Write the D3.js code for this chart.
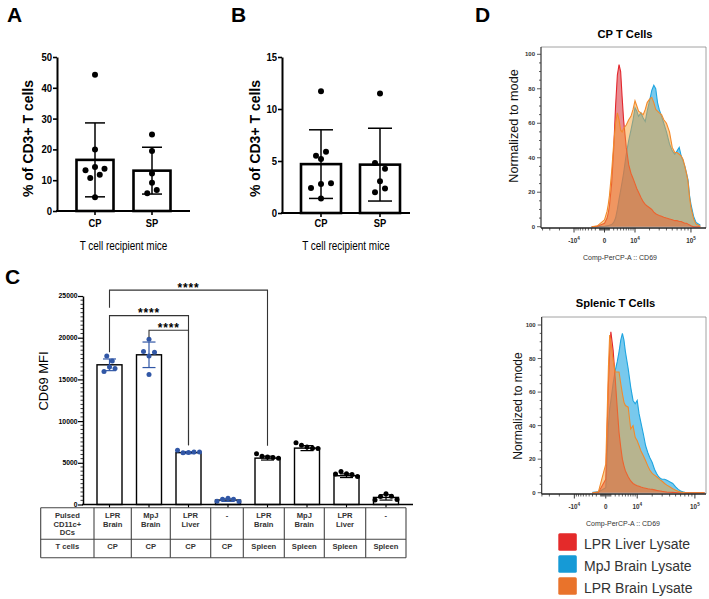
<!DOCTYPE html>
<html>
<head>
<meta charset="utf-8">
<title>CD69 figure</title>
<script src="https://cdn.jsdelivr.net/npm/d3@7"></script>
<style>
  html,body{margin:0;padding:0;background:#fff;}
  svg{display:block;}
</style>
</head>
<body>
<svg id="fig" width="709" height="599" viewBox="0 0 709 599"></svg>
<script>
// ======================= DATA =======================
// Panels A & B
const abGroups = ["CP", "SP"];
const abYTitle = "% of CD3+ T cells";
const abXTitle = "T cell recipient mice";

const aCP = [44.2, 20.0, 14.3, 13.7, 13.2, 10.7, 11.8, 4.5];
const aSP = [24.8, 19.5, 12.2, 9.2, 5.8, 6.8];
const aMeans = [16.6, 13.1];
const aSDs = [12.0, 7.6];
const aTicks = [0, 10, 20, 30, 40, 50];

const bCP = [11.7, 5.5, 5.9, 5.2, 2.8, 2.85, 2.4, 1.4];
const bSP = [11.5, 4.8, 4.25, 3.05, 2.0, 2.35];
const bMeans = [4.7, 4.65];
const bSDs = [3.3, 3.5];
const bTicks = [0, 5, 10, 15];

// Panel C
const cPulsedDCs = [["LPR","Brain"],["MpJ","Brain"],["LPR","Liver"],["-"],["LPR","Brain"],["MpJ","Brain"],["LPR","Liver"],["-"]];
const cTCells = ["CP","CP","CP","CP","Spleen","Spleen","Spleen","Spleen"];
const cRowHeaders = [["Pulsed","CD11c+","DCs"],["T cells"]];
const cPoints = [
  [17800, 17200, 16500, 16300, 15950],
  [19800, 17800, 18250, 18350, 15600],
  [6250, 6300, 6200, 6300, 6500],
  [750, 640, 620, 360, 380],
  [5700, 5650, 5800, 5550, 6100],
  [6900, 6750, 7100, 6700, 7400],
  [3700, 3600, 3950, 3350, 3650],
  [1300, 1000, 950, 600, 550]
];
const cMeans = [16750, 17950, 6220, 530, 5560, 6760, 3450, 850];
const cSDs = [700, 1530, 120, 160, 230, 300, 220, 320];
const cTicks = [0, 5000, 10000, 15000, 20000, 25000];
const cYTitle = "CD69 MFI";
// significance brackets: [from bar, to bar, level, left end, right end, label] (CD69 MFI units)
const cBrackets = [
  [0, 4, 25700, 23600, 7050, "****"],
  [0, 2, 22650, 18250, 7100, "****"],
  [1, 2, 20900, 20050, 7100, "****"]
];

// Panel D (histograms, % of mode at CD69 fluorescence values)
const cd69Bins = [-3000,-1500,0,500,750,1000,1500,2000,2500,3000,3500,4000,4500,5000,6000,7000,8000,9000,10000,11000,12000,13500,15000,16500,18000,20000,22000,24000,26000,28000,30000,33000,36000,40000,45000,50000,55000,60000,65000,70000,75000,80000,85000,90000,95000,100000,110000,120000,140000];
const cpLiver = [0,0.3,2,5,8,12,25,45,70,88,94,90,75,62,46,36,31,28,25,22,20,17,14.5,13,12,11,10,8.5,7.5,7,6.5,6,5.5,5,4.5,4,3.5,3.5,3,3,2.5,2,2,1.5,1,0.5,0,0,0];
const cpMpjBrain = [0,0,0.3,0.5,0.6,0.8,1.2,2.5,5,10,16,21,26,31,42,50,56,62,69,67,64,66,63,61,67,73,79,82,80,72,68,64,60,55,48,44,42,44,46,41,38,35,31,27,18,13,6,2.5,0.8];
const cpLprBrain = [0,0.5,4,9,13,18,32,48,60,66,62,56,55,57,59,62,64,68,73,70,67,66,65,68,72,74,75,72,68,67,66,65,62,60,55,46,43,43,42,41,39,35,31,26,17,11,4.5,1.5,0.3];
const spLiver = [0,0.3,8,65,84,96,85,68,51,36,27,20,16,13,9.5,7,5.5,4.8,4.2,3.8,3.4,3,2.7,2.4,2.2,2,1.7,1.4,1.2,1,0.8,0.6,0.4,0.3,0.2,0.1,0,0,0,0,0,0,0,0,0,0,0,0,0];
const spMpjBrain = [0.3,0.5,3,40,50,55,65,73,78,84,91,95,91,84,74,63,55,53,55,47,42,35,28,24,21,18,14,11.5,9.5,8.5,8,8,7.5,6.5,5.5,3.5,2,1,0.5,0.2,0,0,0,0,0,0,0,0,0];
const spLprBrain = [0,0.5,17,75,94,90,79,72,72,72,65,59,54,52,51,38,40,33,31,28,25,22,19,16,13.5,11.5,10.5,9.5,8.5,7.5,6.8,5.5,4.5,3.5,2.4,1.5,0.8,0.4,0.2,0,0,0,0,0,0,0,0,0,0];
const dXDomain = [-42500, 171300];
const dXTickValues = [-10000, 0, 10000, 100000];
const dXTickLabels = ["-10^4", "0", "10^4", "10^5"];
const dXMinorTicks = [-40000,-30000,-20000,-9000,-8000,-7000,-6000,-5000,-4000,-3000,-2000,-1000,-800,-600,-400,-200,200,400,600,800,1000,2000,3000,4000,5000,6000,7000,8000,9000,20000,30000,40000,50000,60000,70000,80000,90000];
const dYTicks = [0, 20, 40, 60, 80, 100];
const dTitles = ["CP T Cells", "Splenic T Cells"];
const dYTitle = "Normalized to mode";
const dXTitle = "Comp-PerCP-A :: CD69";
const legendLabels = ["LPR Liver Lysate", "MpJ Brain Lysate", "LPR Brain Lysate"];

// ======================= DRAWING =======================
const svg = d3.select("#fig");
const SANS = '"Liberation Sans", Arial, Helvetica, sans-serif';

function stext(parent, x, y, s, o) {
  o = o || {};
  let tr = `translate(${x},${y})`;
  if (o.rotate) tr += " rotate(-90)";
  if (o.sx && o.sx !== 1) tr += ` scale(${o.sx},1)`;
  return parent.append("text")
    .attr("transform", tr)
    .attr("font-family", o.family || SANS)
    .attr("font-size", o.size || 10)
    .attr("font-weight", o.weight || "normal")
    .attr("fill", o.fill || "#000")
    .attr("text-anchor", o.anchor || "start")
    .text(s);
}

// horizontal offsets for overlapping points (simple centered swarm)
function swarm(vals, y, thr, d) {
  const idx = vals.map((v, i) => ({v, i, py: y(v)})).sort((a, b) => a.py - b.py || a.i - b.i);
  const clusters = []; let cur = null;
  idx.forEach(p => {
    if (cur && p.py - cur[0].py < thr) cur.push(p);
    else { cur = [p]; clusters.push(cur); }
  });
  const off = new Array(vals.length).fill(0);
  clusters.forEach(c => {
    c.sort((a, b) => a.i - b.i);
    const n = c.length;
    c.forEach((p, k) => {
      let o;
      if (n % 2 === 1) { const m = Math.ceil(k / 2); o = k === 0 ? 0 : (k % 2 === 1 ? m * d : -m * d); }
      else { const m = Math.floor(k / 2) + 0.5; o = (k % 2 === 0 ? -m * d : m * d); }
      off[p.i] = o;
    });
  });
  return off;
}

// panel letters
[["A", 7, 22], ["B", 231, 22], ["C", 5, 284], ["D", 475, 22]].forEach(([t, x, y]) =>
  stext(svg, x, y, t, {size: 21, weight: "bold"}));

// ---------- Panels A and B ----------
function drawBarPanel(cfg) {
  const g = svg.append("g");
  const y = d3.scaleLinear().domain([0, cfg.ticks[cfg.ticks.length - 1]]).range([cfg.yBottom, cfg.yTop]);
  const x = d3.scalePoint().domain(abGroups).range(cfg.xRange);

  g.selectAll("rect.bar").data(cfg.means).join("rect").attr("class", "bar")
    .attr("x", (d, i) => x(abGroups[i]) - cfg.barW / 2)
    .attr("y", d => y(d))
    .attr("width", cfg.barW)
    .attr("height", d => y(0) - y(d))
    .attr("fill", "#fff").attr("stroke", "#000").attr("stroke-width", 2.6);

  cfg.means.forEach((m, i) => {
    const cx = x(abGroups[i]), sd = cfg.sds[i];
    g.append("line").attr("x1", cx).attr("x2", cx).attr("y1", y(m - sd)).attr("y2", y(m + sd))
      .attr("stroke", "#000").attr("stroke-width", 1.5);
    [m - sd, m + sd].forEach(v => g.append("line")
      .attr("x1", cx - cfg.cap / 2).attr("x2", cx + cfg.cap / 2).attr("y1", y(v)).attr("y2", y(v))
      .attr("stroke", "#000").attr("stroke-width", 1.5));
  });

  cfg.points.forEach((vals, i) => {
    const off = swarm(vals, y, cfg.thr, cfg.dx);
    g.selectAll(null).data(vals).join("circle")
      .attr("cx", (d, k) => x(abGroups[i]) + off[k])
      .attr("cy", d => y(d)).attr("r", cfg.r).attr("fill", "#000");
  });

  const ax = g.append("g").attr("transform", `translate(${cfg.axisX},0)`)
    .call(d3.axisLeft(y).tickValues(cfg.ticks).tickSize(4).tickSizeOuter(0).tickFormat(""));
  ax.select(".domain").attr("stroke-width", 2);
  ax.selectAll(".tick line").attr("stroke-width", 1.6);
  cfg.ticks.forEach(t => stext(g, cfg.axisX - 5, y(t) + 4, String(t), {size: 11.5, weight: "bold", anchor: "end", sx: 0.83}));

  g.append("line").attr("x1", cfg.axisX - 1).attr("x2", cfg.xEnd).attr("y1", y(0)).attr("y2", y(0))
    .attr("stroke", "#000").attr("stroke-width", 2);
  abGroups.forEach(k => {
    g.append("line").attr("x1", x(k)).attr("x2", x(k)).attr("y1", y(0)).attr("y2", y(0) + 4)
      .attr("stroke", "#000").attr("stroke-width", 1.6);
    stext(g, x(k), 227, k, {size: 11, weight: "bold", anchor: "middle", sx: 0.85});
  });
  stext(g, (cfg.axisX + cfg.xEnd) / 2, 250, abXTitle, {size: 12, anchor: "middle", sx: 0.83});
  stext(g, cfg.yTitleX, 138.5, abYTitle, {size: 14, weight: "bold", anchor: "middle", rotate: true});
}

drawBarPanel({ticks: aTicks, yBottom: 211, yTop: 57, xRange: [95, 152], barW: 37, cap: 20,
  axisX: 57, xEnd: 190, means: aMeans, sds: aSDs, points: [aCP, aSP], r: 3, thr: 5.4, dx: 9.5, yTitleX: 33});
drawBarPanel({ticks: bTicks, yBottom: 213, yTop: 57, xRange: [321, 380], barW: 40, cap: 24,
  axisX: 282, xEnd: 410, means: bMeans, sds: bSDs, points: [bCP, bSP], r: 3, thr: 6, dx: 10, yTitleX: 260});

// ---------- Panel C ----------
(function () {
  const g = svg.append("g");
  const keys = cPulsedDCs.map((d, i) => i + ":" + d.join(" ") + "/" + cTCells[i]);
  const y = d3.scaleLinear().domain([0, 25000]).range([504.5, 296]);
  const x = d3.scalePoint().domain(keys).range([109.5, 386]);
  const barW = 25, blue = "#3157a6";
  const col = i => cTCells[i] === "CP" ? blue : "#000";

  g.selectAll("rect.cbar").data(cMeans).join("rect").attr("class", "cbar")
    .attr("x", (d, i) => x(keys[i]) - barW / 2).attr("y", d => y(d))
    .attr("width", barW).attr("height", d => y(0) - y(d))
    .attr("fill", "#fff").attr("stroke", "#000").attr("stroke-width", 1.4);

  cPoints.forEach((vals, i) => {
    const off = swarm(vals, y, 7, 5.5);
    g.selectAll(null).data(vals).join("circle")
      .attr("cx", (d, k) => x(keys[i]) + off[k]).attr("cy", d => y(d))
      .attr("r", 2.5).attr("fill", col(i));
  });
  cMeans.forEach((m, i) => {
    const cx = x(keys[i]), sd = cSDs[i];
    g.append("line").attr("x1", cx).attr("x2", cx).attr("y1", y(m - sd)).attr("y2", y(m + sd))
      .attr("stroke", col(i)).attr("stroke-width", 1.2);
    [m - sd, m + sd].forEach(v => g.append("line")
      .attr("x1", cx - 6.5).attr("x2", cx + 6.5).attr("y1", y(v)).attr("y2", y(v))
      .attr("stroke", col(i)).attr("stroke-width", 1.2));
  });

  // y axis
  const ax = g.append("g").attr("transform", "translate(83,0)")
    .call(d3.axisLeft(y).tickValues(cTicks).tickSize(5).tickSizeOuter(0).tickFormat(""));
  ax.select(".domain").attr("stroke-width", 1.5);
  ax.selectAll(".tick line").attr("stroke-width", 1.2);
  d3.range(0, 25001, 500).filter(v => !cTicks.includes(v)).forEach(v =>
    g.append("line").attr("x1", 80.5).attr("x2", 83).attr("y1", y(v)).attr("y2", y(v))
      .attr("stroke", "#000").attr("stroke-width", 0.8));
  cTicks.forEach(t => stext(g, 77.5, y(t) + 2.4, String(t), {size: 6.8, weight: "bold", anchor: "end"}));
  stext(g, 48, 381, cYTitle, {size: 13, anchor: "middle", rotate: true});

  // x axis
  g.append("line").attr("x1", 82).attr("x2", 413).attr("y1", y(0)).attr("y2", y(0))
    .attr("stroke", "#000").attr("stroke-width", 1.4);
  keys.forEach(k => g.append("line").attr("x1", x(k)).attr("x2", x(k)).attr("y1", y(0)).attr("y2", y(0) + 3)
    .attr("stroke", "#000").attr("stroke-width", 1.1));

  // brackets
  cBrackets.forEach(([a, b, lvl, ea, eb, lab]) => {
    const xa = x(keys[a]), xb = x(keys[b]);
    g.append("path").attr("d", `M${xa},${y(ea)}V${y(lvl)}H${xb}V${y(eb)}`)
      .attr("fill", "none").attr("stroke", "#333").attr("stroke-width", 1.1);
    stext(g, (xa + xb) / 2, y(lvl) + 1.6, lab, {size: 12, weight: "bold", anchor: "middle"})
      .attr("letter-spacing", 0.8);
  });

  // table
  const cols = [40.7, 94, 131.3, 170.3, 210.7, 243.3, 284.3, 324.3, 365.7, 406];
  const rows = [507.7, 539.3, 557.7];
  const tg = g.append("g").attr("stroke", "#444").attr("stroke-width", 1.1);
  rows.forEach(r => tg.append("line").attr("x1", cols[0]).attr("x2", cols[cols.length - 1]).attr("y1", r).attr("y2", r));
  cols.forEach(c => tg.append("line").attr("x1", c).attr("x2", c).attr("y1", rows[0]).attr("y2", rows[2]));
  const tOpt = {size: 7.6, weight: "bold", anchor: "middle", fill: "#333"};
  cRowHeaders[0].forEach((s, j) => stext(g, (cols[0] + cols[1]) / 2, 518 + j * 8.5, s, tOpt));
  stext(g, (cols[0] + cols[1]) / 2, 549, cRowHeaders[1][0], tOpt);
  cPulsedDCs.forEach((lines, i) => {
    const cxm = (cols[i + 1] + cols[i + 2]) / 2;
    lines.forEach((s, j) => stext(g, cxm, 518 + j * 8.5, s, tOpt));
    stext(g, cxm, 549, cTCells[i], tOpt);
  });
})();

// ---------- Panel D ----------
function drawHist(cfg) {
  const g = svg.append("g");
  const x = d3.scaleSymlog().constant(5400).domain(dXDomain).range(cfg.xRange);
  const y = d3.scaleLinear().domain([0, 100]).range([cfg.yZero, cfg.yHundred]);
  const f = cfg.frame;
  const clipId = "clip" + cfg.id;
  svg.append("clipPath").attr("id", clipId).append("rect")
    .attr("x", f.x0).attr("y", f.y0).attr("width", f.x1 - f.x0).attr("height", f.y1 - f.y0);

  const area = d3.area().x((d, i) => x(cd69Bins[i])).y0(y(0)).y1(d => y(d));
  const line = d3.line().x((d, i) => x(cd69Bins[i])).y(d => y(d));
  const pg = g.append("g").attr("clip-path", `url(#${clipId})`);
  cfg.series.forEach(s => {
    pg.append("path").datum(s.vals).attr("d", area).attr("fill", s.fill).attr("fill-opacity", s.op);
    pg.append("path").datum(s.vals).attr("d", line).attr("fill", "none").attr("stroke", s.stroke)
      .attr("stroke-width", 1.1);
  });

  // frame
  g.append("path").attr("d", `M${f.x0},${f.y0}H${f.x1}V${f.y1}`).attr("fill", "none").attr("stroke", "#8a8a8a").attr("stroke-width", 0.8);
  g.append("line").attr("x1", f.x0).attr("x2", f.x0).attr("y1", f.y0).attr("y2", f.y1).attr("stroke", "#222").attr("stroke-width", 1.1);
  g.append("line").attr("x1", f.x0).attr("x2", f.x1).attr("y1", f.y1).attr("y2", f.y1).attr("stroke", "#222").attr("stroke-width", 1.6);

  // y ticks
  d3.range(0, 101, 5).forEach(v => {
    const major = dYTicks.includes(v);
    g.append("line").attr("x1", f.x0 - (major ? 4 : 2)).attr("x2", f.x0).attr("y1", y(v)).attr("y2", y(v))
      .attr("stroke", "#333").attr("stroke-width", 0.8);
  });
  dYTicks.forEach(t => stext(g, f.x0 - 6, y(t) + 2, String(t), {size: 6, weight: "bold", anchor: "end", fill: "#333"}));

  // x ticks
  dXMinorTicks.forEach(v => g.append("line").attr("x1", x(v)).attr("x2", x(v)).attr("y1", f.y1).attr("y2", f.y1 + 2.5)
    .attr("stroke", "#222").attr("stroke-width", 0.7));
  dXTickValues.forEach((v, i) => {
    g.append("line").attr("x1", x(v)).attr("x2", x(v)).attr("y1", f.y1).attr("y2", f.y1 + 4.5)
      .attr("stroke", "#222").attr("stroke-width", 0.9);
    const parts = dXTickLabels[i].split("^");
    const t = g.append("text").attr("x", x(v)).attr("y", cfg.tickLabelY)
      .attr("font-family", SANS).attr("font-size", 6.3).attr("font-weight", "bold").attr("fill", "#333")
      .attr("text-anchor", "middle");
    t.append("tspan").text(parts[0]);
    if (parts[1]) t.append("tspan").attr("font-size", 4.6).attr("dy", -3).text(parts[1]);
  });
  stext(g, cfg.xTitlePos[0], cfg.xTitlePos[1], dXTitle, {size: 7, fill: "#333", anchor: "middle"});
  stext(g, cfg.yTitlePos[0], cfg.yTitlePos[1], dYTitle, {size: cfg.yTitleSize, anchor: "middle", rotate: true, fill: "#111"});
  stext(g, cfg.titlePos[0], cfg.titlePos[1], cfg.title, {size: 11.2, weight: "bold", anchor: "middle"});
}

const blueS = {fill: "#1ea5e1", op: 0.6, stroke: "#1fa5e0"};
const redS = {fill: "#d72d37", op: 0.55, stroke: "#e3262c"};
const orangeS = {fill: "#f5a032", op: 0.5, stroke: "#f28a2c"};

drawHist({id: "top", title: dTitles[0], frame: {x0: 541, x1: 706, y0: 47, y1: 228},
  xRange: [541, 706], yZero: 226.7, yHundred: 54.3, tickLabelY: 243,
  xTitlePos: [620, 260], yTitlePos: [518, 126], yTitleSize: 12.7, titlePos: [625, 37.5],
  series: [Object.assign({vals: cpMpjBrain}, blueS), Object.assign({vals: cpLiver}, redS), Object.assign({vals: cpLprBrain}, orangeS)]});
drawHist({id: "bot", title: dTitles[1], frame: {x0: 541.7, x1: 706, y0: 317, y1: 494},
  xRange: [540.3, 710.4], yZero: 492.7, yHundred: 325, tickLabelY: 509,
  xTitlePos: [623, 526], yTitlePos: [521.5, 406], yTitleSize: 12, titlePos: [615.5, 307],
  series: [Object.assign({vals: spMpjBrain}, blueS), Object.assign({vals: spLiver}, redS), Object.assign({vals: spLprBrain}, orangeS)]});

// legend
const legendColors = ["#e42a2a", "#169ad6", "#e9732b"];
legendLabels.forEach((lab, i) => {
  svg.append("rect").attr("x", 558.3).attr("y", 533.3 + i * 22).attr("width", 18.5).attr("height", 17.5)
    .attr("rx", 1.5).attr("fill", legendColors[i]);
  stext(svg, 584, 548.5 + i * 22, lab, {size: 14, fill: "#333"});
});
</script>
</body>
</html>
